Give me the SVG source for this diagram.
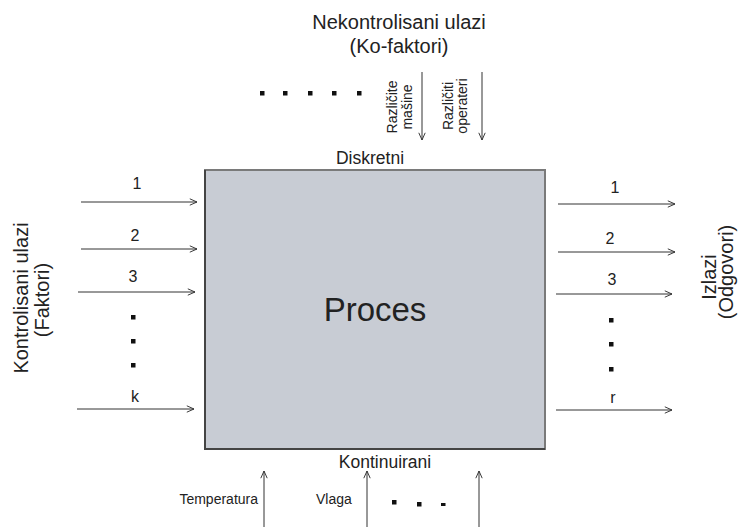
<svg xmlns="http://www.w3.org/2000/svg" width="741" height="527" viewBox="0 0 741 527">
  <style>
    text { font-family: "Liberation Sans", Arial, sans-serif; fill: #222; }
    .big { font-size: 20px; }
    .num { font-size: 16px; text-anchor: middle; }
    .mid { font-size: 17.5px; text-anchor: middle; }
    .small { font-size: 14px; }
    .conn line { stroke: #333; stroke-width: 1; marker-end: url(#arrow); }
    .dot { fill: #111; }
  </style>
  <defs>
    <marker id="arrow" viewBox="0 0 10 10" refX="10" refY="5" markerWidth="8" markerHeight="8" markerUnits="userSpaceOnUse" orient="auto">
      <polyline points="1,1 10,5 1,9" fill="none" stroke="#333" stroke-width="1.2"/>
    </marker>
  </defs>

  <rect width="741" height="527" fill="#fff"/>

  <!-- process block: lighter top/right edges, darker left/bottom edges -->
  <g id="proces">
    <rect x="205" y="170" width="340" height="279" fill="#c8ccd4" stroke="#7a7a7a" stroke-width="2"/>
    <polyline points="205,170 205,449 545,449" fill="none" stroke="#444" stroke-width="2"/>
    <text x="375" y="321" font-size="33" text-anchor="middle">Proces</text>
  </g>

  <!-- headings -->
  <g id="nekontrolisani">
    <text class="big" x="399" y="29" text-anchor="middle">Nekontrolisani ulazi</text>
    <text class="big" x="399" y="53" text-anchor="middle">(Ko-faktori)</text>
  </g>
  <g id="kontrolisani">
    <text class="big" transform="translate(28,298) rotate(-90)" text-anchor="middle">Kontrolisani ulazi</text>
    <text class="big" transform="translate(49,300) rotate(-90)" text-anchor="middle">(Faktori)</text>
  </g>
  <g id="izlazi">
    <text class="big" transform="translate(716,277) rotate(-90)" text-anchor="middle">Izlazi</text>
    <text class="big" transform="translate(733,272) rotate(-90)" text-anchor="middle">(Odgovori)</text>
  </g>
  <g id="diskretni">
    <text class="mid" x="370" y="164">Diskretni</text>
  </g>
  <g id="kontinuirani">
    <text class="mid" x="385" y="468">Kontinuirani</text>
  </g>

  <!-- connectors -->
  <g class="conn" id="connectors">
    <line x1="81" y1="202" x2="197" y2="202"/>
    <line x1="81" y1="249" x2="197" y2="249"/>
    <line x1="78" y1="292" x2="195" y2="292"/>
    <line x1="77" y1="409" x2="194" y2="409"/>
    <line x1="558" y1="204" x2="675" y2="204"/>
    <line x1="558" y1="252" x2="675" y2="252"/>
    <line x1="556" y1="294" x2="672" y2="294"/>
    <line x1="556" y1="410" x2="672" y2="410"/>
    <line x1="422" y1="72" x2="422" y2="140"/>
    <line x1="482" y1="72" x2="482" y2="140"/>
    <line x1="264" y1="527" x2="264" y2="471"/>
    <line x1="367" y1="527" x2="367" y2="471"/>
    <line x1="479" y1="527" x2="479" y2="471"/>
  </g>

  <!-- input labels -->
  <g id="ulazi-labels">
    <text class="num" x="137" y="189">1</text>
    <text class="num" x="135" y="241">2</text>
    <text class="num" x="133" y="282">3</text>
    <text class="num" x="135" y="402">k</text>
    <rect class="dot" x="131" y="315" width="4.5" height="4.5"/>
    <rect class="dot" x="131" y="339" width="4.5" height="4.5"/>
    <rect class="dot" x="131" y="363" width="4.5" height="4.5"/>
  </g>

  <!-- output labels -->
  <g id="izlazi-labels">
    <text class="num" x="615" y="193">1</text>
    <text class="num" x="610" y="244">2</text>
    <text class="num" x="612" y="285">3</text>
    <text class="num" x="613" y="403">r</text>
    <rect class="dot" x="609" y="318" width="4.5" height="4.5"/>
    <rect class="dot" x="609" y="342" width="4.5" height="4.5"/>
    <rect class="dot" x="609" y="367" width="4.5" height="4.5"/>
  </g>

  <!-- discrete inputs -->
  <g id="diskretni-ulazi">
    <rect class="dot" x="260" y="91" width="4.5" height="4.5"/>
    <rect class="dot" x="283" y="91" width="4.5" height="4.5"/>
    <rect class="dot" x="308" y="91" width="4.5" height="4.5"/>
    <rect class="dot" x="332" y="91" width="4.5" height="4.5"/>
    <rect class="dot" x="357" y="91" width="4.5" height="4.5"/>
    <text class="small" transform="translate(397,107) rotate(-90)" text-anchor="middle">Različite</text>
    <text class="small" transform="translate(412,107) rotate(-90)" text-anchor="middle">mašine</text>
    <text class="small" transform="translate(453,106) rotate(-90)" text-anchor="middle">Različiti</text>
    <text class="small" transform="translate(467,106) rotate(-90)" text-anchor="middle">operateri</text>
  </g>

  <!-- continuous inputs -->
  <g id="kontinuirani-ulazi">
    <text class="small" x="258" y="504" text-anchor="end">Temperatura</text>
    <text class="small" x="316" y="504">Vlaga</text>
    <rect class="dot" x="392" y="500" width="4.5" height="4.5"/>
    <rect class="dot" x="417" y="502" width="4.5" height="4.5"/>
    <rect class="dot" x="441" y="503" width="4.5" height="3"/>
  </g>
</svg>
